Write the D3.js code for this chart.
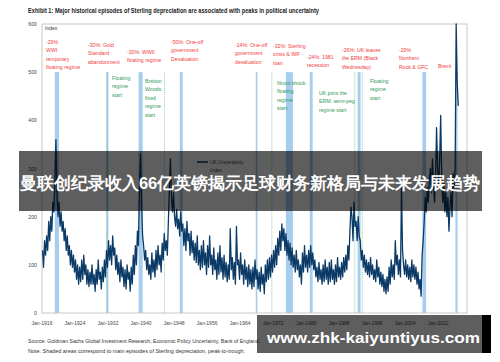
<!DOCTYPE html>
<html lang="en">
<head>
<meta charset="UTF-8">
<title>Sterling depreciation and UK uncertainty</title>
<script src="https://cdnjs.cloudflare.com/ajax/libs/d3/7.8.5/d3.min.js"></script>
<style>
  body { margin: 0; background: #fff; }
  text { font-family: "Liberation Sans", Arial, sans-serif; }
</style>
</head>
<body>
<svg id="chart" width="500" height="362"></svg>
<script>
// UK uncertainty index, quarterly readings from Jan-1916
const startYear = 1916;
const uncertainty = [
  130, 95, 150, 120,   160, 130, 190, 150,   200, 170, 230, 210,   280, 360, 250, 200,
  230, 180, 210, 170,  190, 150, 175, 130,   160, 120, 140, 100,   130, 95, 120, 85,
  110, 70, 100, 60,    95, 65, 110, 70,      120, 80, 100, 60,     90, 55, 85, 60,
  100, 60, 80, 45,     90, 60, 110, 70,      85, 50, 95, 65,       110, 75, 130, 95,
  150, 110, 140, 100,  160, 120, 135, 90,    120, 80, 105, 65,     110, 75, 95, 55,
  90, 50, 100, 70,     85, 45, 95, 60,       120, 80, 140, 100,    170, 140, 260, 330,
  230, 160, 140, 110,  130, 90, 115, 80,     100, 70, 125, 85,     110, 75, 130, 90,
  140, 100, 120, 85,   145, 110, 165, 130,   150, 120, 190, 260,    320, 240, 210, 250,
  200, 180, 215, 175,  195, 160, 210, 170,   185, 140, 175, 130,   190, 150, 165, 120,
  170, 125, 150, 110,  145, 105, 160, 100,   130, 90, 140, 95,     150, 100, 125, 80,
  140, 95, 160, 100,   120, 80, 135, 90,     110, 70, 125, 80,     140, 85, 115, 70,
  120, 75, 105, 65,    100, 70, 175, 90,     115, 70, 105, 60,     180, 100, 110, 70,
  125, 80, 100, 60,    110, 70, 95, 55,      100, 60, 90, 50,      95, 55, 110, 70,
  90, 50, 85, 45,      95, 60, 80, 40,       100, 65, 110, 70,     115, 75, 120, 85,
  130, 95, 140, 100,   155, 120, 170, 130,   185, 150, 175, 130,   165, 120, 150, 110,
  145, 100, 135, 95,   120, 85, 130, 90,     110, 75, 100, 60,     125, 85, 140, 95,
  120, 85, 130, 95,    140, 100, 125, 90,    110, 75, 95, 65,      105, 70, 90, 60,
  100, 65, 110, 70,    95, 60, 105, 65,      110, 70, 90, 60,      100, 65, 115, 75,
  95, 70, 105, 75,     115, 85, 120, 90,     140, 110, 170, 220,   200, 150, 230, 180,
  190, 150, 200, 160,  150, 110, 130, 95,    120, 85, 110, 80,     105, 75, 115, 80,
  100, 70, 90, 65,     110, 75, 95, 60,      85, 55, 80, 45,       70, 40, 75, 45,
  95, 60, 110, 75,     100, 70, 150, 100,    120, 80, 110, 75,     260, 130, 100, 80,
  110, 75, 100, 70,    95, 65, 110, 75,      100, 70, 95, 60,      85, 50, 70, 35,
  120, 150, 190, 240,  210, 260, 230, 280,   300, 250, 320, 270,   230, 280, 385, 300,
  260, 320, 410, 280,  230, 270, 210, 250,   200, 240, 170, 220,   250, 200, 290, 260,
  300, 600, 480, 430
];

// depreciation episodes (shaded), in fractional years
const episodes = [
  [1919.1, 1920.1], [1931.6, 1932.1], [1939.4, 1940.4], [1949.4, 1950.1],
  [1967.8, 1968.2], [1975.1, 1976.8], [1980.9, 1981.6], [1992.5, 1993.2],
  [2008.2, 2009.1], [2016.2, 2016.7]
];
// exchange-rate regime changes (green dotted)
const regimeStarts = [1931.7, 1945.7, 1971.7, 1991.8, 1993.6];

const yTicks = [0, 100, 200, 300, 400, 500, 600];
const xTickYears = [1916, 1924, 1932, 1940, 1948, 1956, 1964, 1972, 1980, 1988, 1996, 2004, 2012];

const redNotes = [
  { x: 46,  y: 44, lines: ["-29%", "WWI", "temporary", "floating regime"] },
  { x: 88,  y: 47, lines: ["-30%:  Gold", "Standard", "abandonment"] },
  { x: 127, y: 54, lines: ["-30%: WWII", "floating regime"] },
  { x: 171, y: 44, lines: ["-50%: One-off", "government", "Devaluation"] },
  { x: 235, y: 47, lines: ["-14%: One-off", "government", "devaluation"] },
  { x: 273, y: 48, lines: ["-32%: Sterling", "crisis & IMF", "loan"] },
  { x: 307, y: 59, lines: ["-24%: 1981", "recession"] },
  { x: 342, y: 52, lines: ["-26%: UK leaves", "the ERM (Black", "Wednesday)"] },
  { x: 399, y: 52, lines: ["-29%", "Northern", "Rock & GFC"] },
  { x: 438, y: 68, lines: ["Brexit"] }
];
const greenNotes = [
  { x: 112, y: 80, lines: ["Floating", "regime", "start"] },
  { x: 145, y: 83, lines: ["Bretton", "Woods:", "fixed", "regime", "start"] },
  { x: 277, y: 85, lines: ["Nixon shock:", "floating", "regime", "start"] },
  { x: 319, y: 95, lines: ["UK joins the", "ERM: semi-peg", "regime start"] },
  { x: 370, y: 83, lines: ["Floating", "regime", "start"] }
];

const svg = d3.select("#chart");
const plotLeft = 42, plotRight = 467, plotTop = 24, plotBottom = 313;

const x = d3.scaleLinear().domain([1916, 2019]).range([plotLeft, plotRight]);
const y = d3.scaleLinear().domain([0, 600]).range([plotBottom, plotTop]);

// title
svg.append("text")
  .attr("x", 28).attr("y", 13)
  .attr("font-size", 6.4).attr("font-weight", "bold").attr("fill", "#222")
  .attr("textLength", 291).attr("lengthAdjust", "spacingAndGlyphs")
  .text("Exhibit 1: Major historical episodes of Sterling depreciation are associated with peaks in political uncertainty");

// shaded episodes
svg.append("g").selectAll("rect")
  .data(episodes)
  .join("rect")
  .attr("x", d => x(d[0]))
  .attr("width", d => Math.max(1.2, x(d[1]) - x(d[0])))
  .attr("y", y(500))
  .attr("height", plotBottom - y(500))
  .attr("fill", "#a6ccee");

// regime changes
svg.append("g").selectAll("line")
  .data(regimeStarts)
  .join("line")
  .attr("x1", d => x(d)).attr("x2", d => x(d))
  .attr("y1", y(500)).attr("y2", plotBottom)
  .attr("stroke", "#72c08f")
  .attr("stroke-width", 0.8)
  .attr("stroke-dasharray", "1,1");

// frame
svg.append("rect")
  .attr("x", plotLeft).attr("y", plotTop)
  .attr("width", plotRight - plotLeft).attr("height", plotBottom - plotTop)
  .attr("fill", "none").attr("stroke", "#c8c8c8").attr("stroke-width", 1);

// series
const line = d3.line()
  .x((d, i) => x(startYear + i / 4 + 0.125))
  .y(d => y(d));

svg.append("path")
  .datum(uncertainty)
  .attr("d", line)
  .attr("fill", "none")
  .attr("stroke", "#0b3a66")
  .attr("stroke-width", 1.3)
  .attr("stroke-linejoin", "round");

// y axis labels
svg.append("g").selectAll("text")
  .data(yTicks)
  .join("text")
  .attr("x", 37).attr("y", d => y(d) + 2)
  .attr("text-anchor", "end")
  .attr("font-size", 5.2).attr("fill", "#444")
  .text(d => d);

svg.append("text")
  .attr("x", 45).attr("y", 30)
  .attr("font-size", 5).attr("fill", "#333")
  .text("Index");

// x axis labels
svg.append("g").selectAll("text")
  .data(xTickYears)
  .join("text")
  .attr("x", d => x(d)).attr("y", 325)
  .attr("text-anchor", "middle")
  .attr("font-size", 5).attr("fill", "#444")
  .text(d => "Jan-" + d);

// annotations
function notes(list, colour) {
  const g = svg.append("g");
  list.forEach(n => {
    n.lines.forEach((t, k) => {
      g.append("text")
        .attr("x", n.x).attr("y", n.y + k * 8.4)
        .attr("font-size", 5.2).attr("fill", colour)
        .text(t);
    });
  });
}
notes(redNotes, "#f23c3c");
notes(greenNotes, "#2f9a5a");

// legend
svg.append("line")
  .attr("x1", 197).attr("x2", 208).attr("y1", 162).attr("y2", 162)
  .attr("stroke", "#0b3a66").attr("stroke-width", 1.5);
svg.append("text").attr("x", 210).attr("y", 164)
  .attr("font-size", 5).attr("fill", "#444").text("UK Uncertainty");
svg.append("text").attr("x", 210).attr("y", 172)
  .attr("font-size", 5).attr("fill", "#444").text("Index");

// sources
svg.append("text")
  .attr("x", 28).attr("y", 343)
  .attr("font-size", 5.2).attr("fill", "#333")
  .attr("textLength", 232).attr("lengthAdjust", "spacingAndGlyphs")
  .text("Source: Goldman Sachs Global Investment Research, Economic Policy Uncertainty, Bank of England.");
svg.append("text")
  .attr("x", 28).attr("y", 353)
  .attr("font-size", 5.2).attr("fill", "#333")
  .attr("textLength", 217).attr("lengthAdjust", "spacingAndGlyphs")
  .text("Note: Shaded areas correspond to main episodes of Sterling depreciation, peak-to-trough.");

// headline banner
svg.append("rect")
  .attr("x", 19).attr("y", 151).attr("width", 463).attr("height", 60)
  .attr("fill", "#000").attr("opacity", 0.63);
svg.append("text")
  .attr("x", 250).attr("y", 189)
  .attr("text-anchor", "middle")
  .attr("font-family", "'Noto Sans CJK SC', sans-serif")
  .attr("font-size", 16.5).attr("font-weight", "bold").attr("fill", "#fff")
  .attr("textLength", 460).attr("lengthAdjust", "spacingAndGlyphs")
  .text("曼联创纪录收入66亿英镑揭示足球财务新格局与未来发展趋势");

// site watermark
svg.append("rect")
  .attr("x", 257).attr("y", 315).attr("width", 225).attr("height", 38)
  .attr("fill", "#000").attr("opacity", 0.63);
svg.append("rect")
  .attr("x", 482).attr("y", 315).attr("width", 9).attr("height", 38)
  .attr("fill", "#000");
svg.append("text")
  .attr("x", 267).attr("y", 343)
  .attr("font-family", "'DejaVu Sans', sans-serif")
  .attr("font-size", 15).attr("font-weight", "bold").attr("fill", "#fff")
  .attr("textLength", 213).attr("lengthAdjust", "spacingAndGlyphs")
  .text("www.zhk-kaiyuntiyus.com");
</script>
</body>
</html>
